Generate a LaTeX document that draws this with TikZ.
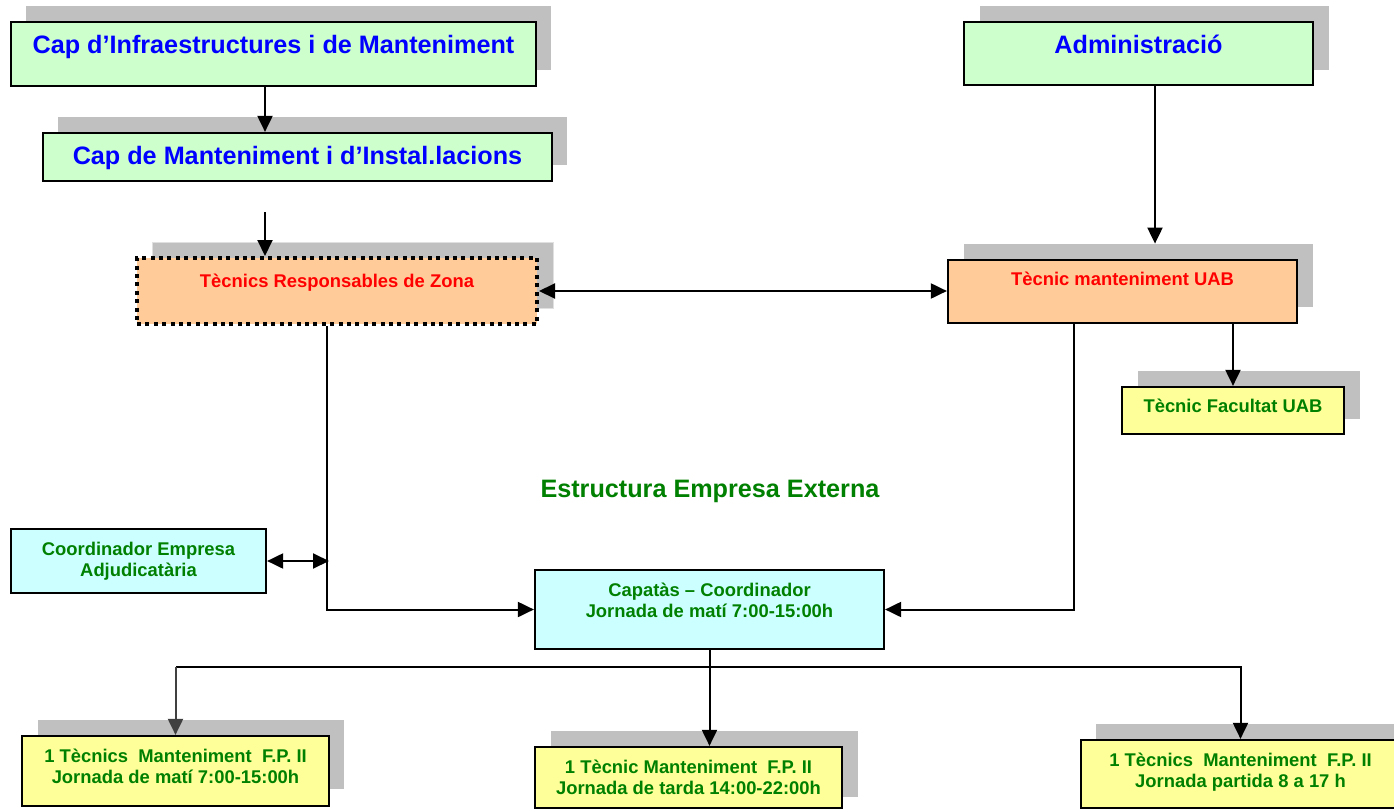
\documentclass[tikz,border=0pt]{standalone}
\usepackage{fontspec}
\setmainfont{Liberation Sans}
\usetikzlibrary{arrows.meta,fit,calc}
\definecolor{lgreen}{HTML}{CCFFCC}
\definecolor{peach}{HTML}{FFCC99}
\definecolor{lcyan}{HTML}{CCFFFF}
\definecolor{lyellow}{HTML}{FFFF99}
\definecolor{shgray}{HTML}{C0C0C0}
\definecolor{tgreen}{HTML}{008000}
\definecolor{tblue}{HTML}{0000FF}
\definecolor{tred}{HTML}{FF0000}
\definecolor{darkg}{HTML}{404040}
\newcommand\fbig{\fontsize{12.6}{15}\selectfont\bfseries}
\newcommand\fsmall{\fontsize{9.2}{11}\selectfont\bfseries}
\begin{document}
\begin{tikzpicture}[x=0.5pt,y=-0.5pt,
 shadowbox/.style={fill=shgray, inner sep=0pt, draw=none},
 box/.style={draw=black, line width=1.1pt, inner sep=0pt},
 dotbox/.style={draw=black, line width=2pt, dash pattern=on 2pt off 2.2pt, inner sep=0pt, fill=peach},
 bigtxt/.style={font=\fbig, anchor=base, inner sep=0pt},
 smalltxt/.style={font=\fsmall, anchor=base, inner sep=0pt, text=tgreen},
 conn/.style={line width=1pt, draw=black},
 arr/.style={conn, -{Triangle[length=8pt,width=7.5pt]}},
 darr/.style={conn, {Triangle[length=8pt,width=7.5pt]}-{Triangle[length=8pt,width=7.5pt]}},
]
\useasboundingbox (0,0) rectangle (1394,809);
\clip (0,0) rectangle (1394,809);
\fill[white] (0,0) rectangle (1394,809);

% shadows
\node[shadowbox, fit={(26,6) (551,70)}] (b1S) {};
\node[shadowbox, fit={(58,117) (567,165)}] (b2S) {};
\node[shadowbox, fit={(980,6) (1329,70)}] (admS) {};
\node[shadowbox, draw=black!12, line width=0.5pt, fit={(152,242) (553,308)}] (tzS) {};
\node[shadowbox, fit={(964,244) (1313,307)}] (tuS) {};
\node[shadowbox, fit={(1138,371) (1360,419)}] (tfS) {};
\node[shadowbox, fit={(38,720) (344,789)}] (blS) {};
\node[shadowbox, fit={(551,731) (858,797)}] (bmS) {};
\node[shadowbox, fit={(1096,724) (1415,792)}] (brS) {};

% boxes
\node[box, fill=lgreen, fit={(11,22) (536,86)}] (b1) {};
\node[box, fill=lgreen, fit={(43,133) (552,181)}] (b2) {};
\node[box, fill=lgreen, fit={(964,22) (1313,85)}] (adm) {};
\node[dotbox, fit={(137,258) (537,324)}] (tz) {};
\node[box, fill=peach, fit={(948,260) (1297,323)}] (tu) {};
\node[box, fill=lyellow, fit={(1122,387) (1344,434)}] (tf) {};
\node[box, fill=lcyan, fit={(11,529) (266,593)}] (co) {};
\node[box, fill=lcyan, fit={(535,570) (884,649)}] (cap) {};
\node[box, fill=lyellow, fit={(22,736) (329,806)}] (bl) {};
\node[box, fill=lyellow, fit={(535,747) (842,808)}] (bm) {};
\node[box, fill=lyellow, fit={(1081,740) (1400,808)}] (br) {};

% texts
\node[bigtxt, text=tblue] (t1) at (273.5,53) {Cap d’Infraestructures i de Manteniment};
\node[bigtxt, text=tblue] (t2) at (297.5,164) {Cap de Manteniment i d’Instal.lacions};
\node[bigtxt, text=tblue] (t3) at (1138.5,53) {Administració};
\node[smalltxt, text=tred] (t4) at (337,287) {Tècnics Responsables de Zona};
\node[smalltxt, text=tred] (t5) at (1122.5,285) {Tècnic manteniment UAB};
\node[smalltxt] (t6) at (1233,412) {Tècnic Facultat UAB};
\node[bigtxt, text=tgreen] (t7) at (710,497) {Estructura Empresa Externa};
\node[smalltxt] (t8a) at (138.5,555) {Coordinador Empresa};
\node[smalltxt] (t8b) at (138.5,576) {Adjudicatària};
\node[smalltxt] (t9a) at (709.5,596) {Capatàs – Coordinador};
\node[smalltxt] (t9b) at (709.5,617) {Jornada de matí 7:00-15:00h};
\node[smalltxt] (t10a) at (175.5,762) {1 Tècnics\ \ Manteniment\ \ F.P.\ II};
\node[smalltxt] (t10b) at (175.5,783) {Jornada de matí 7:00-15:00h};
\node[smalltxt] (t11a) at (688.5,773) {1 Tècnic Manteniment\ \ F.P.\ II};
\node[smalltxt] (t11b) at (688.5,794) {Jornada de tarda 14:00-22:00h};
\node[smalltxt] (t12a) at (1240.5,766) {1 Tècnics\ \ Manteniment\ \ F.P.\ II};
\node[smalltxt] (t12b) at (1240.5,787) {Jornada partida 8 a 17 h};

% connectors
\draw[arr] ([xshift=-4.25pt]b1.south) -- ([xshift=-4.25pt]b1.south |- b2.north);
\coordinate (f1) at (265,212);
\draw[arr] (f1) -- (f1 |- tz.north);
\draw[arr] ([xshift=8.25pt]adm.south) -- ([xshift=8.25pt]adm.south |- tuS.north);
\draw[darr] (tz.east) -- (tz.east -| tu.west);
\draw[arr] (tf.north |- tu.south) -- (tf.north);
\draw[arr] ([xshift=63.5pt]tu.south west) |- (cap.east);
\draw[arr] ([xshift=96pt]tz.south west) |- (cap.west);
\coordinate (j1) at (329,561);
\draw[darr] (co.east) -- (j1);
\draw[arr] (cap.south) -- (cap.south |- bm.north);
\coordinate (h) at (709.5,667);
\draw[conn] (h) -- (h -| bl.north);
\draw[conn, draw=darkg, -{Triangle[length=8pt,width=7.5pt]}] (h -| bl.north) -- (bl.north);
\draw[arr] (h) -| (br.north);
\end{tikzpicture}
\end{document}
